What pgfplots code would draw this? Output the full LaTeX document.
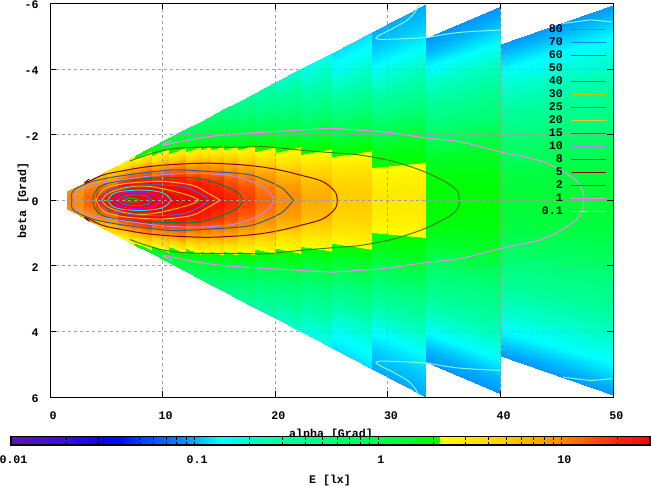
\documentclass[border=0pt]{standalone}
\usepackage{fontspec}
\setmainfont{Liberation Mono}
\usepackage{pgfplots}
\pgfplotsset{compat=1.18}
\definecolor{c80}{HTML}{00C000}\definecolor{c70}{HTML}{0080FF}\definecolor{c60}{HTML}{C000FF}
\definecolor{c50}{HTML}{00EEEE}\definecolor{c40}{HTML}{C04000}\definecolor{c30}{HTML}{C8C800}
\definecolor{c25}{HTML}{4169E1}\definecolor{c20}{HTML}{FFC020}\definecolor{c15}{HTML}{008040}
\definecolor{c10}{HTML}{C080FF}\definecolor{c8}{HTML}{306080}\definecolor{c5}{HTML}{8B0000}
\definecolor{c2}{HTML}{408000}\definecolor{c1}{HTML}{FF80FF}\definecolor{c01}{HTML}{7FFFD4}
\pgfplotsset{colormap={gp}{rgb255(11pt)=(90,20,180) rgb255(67pt)=(55,15,215) rgb255(100pt)=(10,0,245)
 rgb255(120pt)=(0,10,255) rgb255(143pt)=(0,70,255) rgb255(173pt)=(0,120,255) rgb255(193pt)=(0,170,255)
 rgb255(220pt)=(0,255,255) rgb255(250pt)=(0,255,200) rgb255(283pt)=(0,255,160) rgb255(333pt)=(0,255,120)
 rgb255(378pt)=(0,255,70) rgb255(433pt)=(0,255,0) rgb255(439pt)=(0,255,0) rgb255(440pt)=(255,255,0)
 rgb255(500pt)=(255,210,0) rgb255(562pt)=(255,135,0) rgb255(590pt)=(255,85,0) rgb255(617pt)=(255,40,0) rgb255(650pt)=(255,0,0)}}
\pgfplotsset{wedge/.style={surf,shader=interp,colormap name=gp,mesh/cols=2,point meta=explicit,forget plot}}
% one column of the angular grid: a = alpha, r = beta/alpha, e = E in lx
\newcommand{\wcol}[1]{%
 \addplot[wedge] table[row sep=\\,x=a,y expr=\thisrow{r}*\thisrow{a},meta expr=log10(\thisrow{e})]{a r e\\#1};
 \addplot[wedge] table[row sep=\\,x=a,y expr=-\thisrow{r}*\thisrow{a},meta expr=log10(\thisrow{e})]{a r e\\#1};}
\newcommand{\ctr}[3]{%
 \addplot[color=#1,line width=1bp,smooth,tension=.55] table[row sep=\\,x=a,y=b]{a b\\#3};\addlegendentry{#2}
 \addplot[color=#1,line width=1bp,smooth,tension=.55,forget plot] table[row sep=\\,x=a,y expr=-\thisrow{b}]{a b\\#3};}
\begin{document}
\begin{tikzpicture}[x=1bp,y=1bp]
\path[use as bounding box] (0,0) rectangle (651,486);
\begin{axis}[at={(50bp,89bp)},anchor=south west,scale only axis,width=563.3bp,height=393.5bp,
 xmin=0,xmax=50,ymin=-6,ymax=6,y dir=reverse,xtick={0,10,...,50},ytick={-6,-4,...,6},
 point meta min=-2,point meta max=1.48,
 font=\fontsize{11.67}{13}\selectfont\bfseries,
 /pgf/number format/assume math mode=true,
 grid=major,grid style={color=black!38,line width=1bp,dash pattern=on 3bp off 3bp},
 tick align=inside,major tick length=6bp,tick style={black,line width=1bp},axis line style={line width=1bp},
 axis on top,
 xticklabel style={yshift=-11bp,xshift=3bp},yticklabel style={xshift=-8bp,yshift=-1.5bp},
 legend style={draw=none,fill=none,at={(0.9888,0.949)},anchor=north east,inner sep=0pt,row sep=2bp,
   font=\fontsize{11.67}{13}\selectfont\bfseries,
   nodes={inner sep=0pt,text height=8.5bp,text depth=2.5bp},
   /tikz/column sep=8bp},
 legend cell align=right,legend plot pos=right,
 legend image code/.code={\draw[#1,sharp plot] (0bp,0bp) -- (35bp,0bp);},
]
\wcol{40 0 1.2\\50 0 1.2\\40 .02 1.05\\50 .02 1.05\\40 .04 .7\\50 .04 .7\\40 .06 .4\\50 .06 .4\\40 .08 .22\\50 .08 .22\\40 .1 .135\\50 .1 .135\\40 .119 .09\\50 .119 .09\\}
\wcol{33.33 0 1.95\\40 0 1.95\\33.33 .02 1.8\\40 .02 1.8\\33.33 .04 1.3\\40 .04 1.3\\33.33 .05 .95\\40 .05 .95\\33.33 .06 .7\\40 .06 .7\\33.33 .08 .42\\40 .08 .42\\33.33 .1 .24\\40 .1 .24\\33.33 .12 .14\\40 .12 .14\\33.33 .135 .105\\40 .135 .105\\33.33 .148 .088\\40 .148 .088\\}
\wcol{28.57 0 3.2\\33.33 0 3.2\\28.57 .02 2.8\\33.33 .02 2.8\\28.57 .034 2.18\\33.33 .034 2.18\\28.57 .05 1.6\\33.33 .05 1.6\\28.57 .067 1\\33.33 .067 1\\28.57 .08 .7\\33.33 .08 .7\\28.57 .1 .38\\33.33 .1 .38\\28.57 .12 .22\\33.33 .12 .22\\28.57 .14 .14\\33.33 .14 .14\\28.57 .16 .112\\33.33 .16 .112\\28.57 .18 .098\\33.33 .18 .098\\}
\wcol{25 0 5\\28.57 0 5\\25 .02 4.4\\28.57 .02 4.4\\25 .04 3.1\\28.57 .04 3.1\\25 .0525 2.18\\28.57 .0525 2.18\\25 .08 1\\28.57 .08 1\\25 .1 .58\\28.57 .1 .58\\25 .12 .33\\28.57 .12 .33\\25 .14 .2\\28.57 .14 .2\\25 .16 .145\\28.57 .16 .145\\25 .18 .122\\28.57 .18 .122\\}
\wcol{22.22 0 7\\25 0 7\\22.22 .02 6\\25 .02 6\\22.22 .04 4.1\\25 .04 4.1\\22.22 .0625 2.18\\25 .0625 2.18\\22.22 .09 1\\25 .09 1\\22.22 .11 .62\\25 .11 .62\\22.22 .13 .38\\25 .13 .38\\22.22 .15 .25\\25 .15 .25\\22.22 .18 .15\\25 .18 .15\\}
\wcol{20 0 9.5\\22.22 0 9.5\\20 .02 8.2\\22.22 .02 8.2\\20 .04 5.6\\22.22 .04 5.6\\20 .0725 2.18\\22.22 .0725 2.18\\20 .1 1\\22.22 .1 1\\20 .125 .6\\22.22 .125 .6\\20 .15 .36\\22.22 .15 .36\\20 .18 .19\\22.22 .18 .19\\}
\wcol{18.18 0 13\\20 0 13\\18.18 .02 11\\20 .02 11\\18.18 .04 7.8\\20 .04 7.8\\18.18 .06 4.6\\20 .06 4.6\\18.18 .081 2.18\\20 .081 2.18\\18.18 .11 1\\20 .11 1\\18.18 .14 .55\\20 .14 .55\\18.18 .18 .26\\20 .18 .26\\}
\wcol{16.67 0 17\\18.18 0 17\\16.67 .02 15\\18.18 .02 15\\16.67 .04 11\\18.18 .04 11\\16.67 .06 6.5\\18.18 .06 6.5\\16.67 .092 2.18\\18.18 .092 2.18\\16.67 .12 1\\18.18 .12 1\\16.67 .15 .6\\18.18 .15 .6\\16.67 .18 .36\\18.18 .18 .36\\}
\wcol{15.38 0 22\\16.67 0 22\\15.38 .02 18\\16.67 .02 18\\15.38 .04 14\\16.67 .04 14\\15.38 .06 8.5\\16.67 .06 8.5\\15.38 .08 4.8\\16.67 .08 4.8\\15.38 .1 2.18\\16.67 .1 2.18\\15.38 .125 1.05\\16.67 .125 1.05\\15.38 .15 .75\\16.67 .15 .75\\15.38 .18 .42\\16.67 .18 .42\\}
\wcol{14.29 0 27\\15.38 0 27\\14.29 .02 22\\15.38 .02 22\\14.29 .04 18\\15.38 .04 18\\14.29 .06 11\\15.38 .06 11\\14.29 .08 6\\15.38 .08 6\\14.29 .108 2.18\\15.38 .108 2.18\\14.29 .135 1.05\\15.38 .135 1.05\\14.29 .18 .55\\15.38 .18 .55\\}
\wcol{13.33 0 31\\14.29 0 31\\13.33 .02 26\\14.29 .02 26\\13.33 .04 20\\14.29 .04 20\\13.33 .065 11\\14.29 .065 11\\13.33 .082 7\\14.29 .082 7\\13.33 .115 2.18\\14.29 .115 2.18\\13.33 .145 1.05\\14.29 .145 1.05\\13.33 .18 .6\\14.29 .18 .6\\}
\wcol{12 0 38\\13.33 0 38\\12 .02 33\\13.33 .02 33\\12 .04 25\\13.33 .04 25\\12 .07 12\\13.33 .07 12\\12 .088 7\\13.33 .088 7\\12 .122 2.18\\13.33 .122 2.18\\12 .155 1.05\\13.33 .155 1.05\\12 .18 .7\\13.33 .18 .7\\}
\wcol{10.5 0 46\\12 0 46\\10.5 .02 38\\12 .02 38\\10.5 .04 28\\12 .04 28\\10.5 .06 21\\12 .06 21\\10.5 .08 13\\12 .08 13\\10.5 .098 8.5\\12 .098 8.5\\10.5 .134 2.18\\12 .134 2.18\\10.5 .17 1.02\\12 .17 1.02\\10.5 .18 .85\\12 .18 .85\\}
\wcol{9 0 62\\10.5 0 62\\9 .02 48\\10.5 .02 48\\9 .04 34\\10.5 .04 34\\9 .06 25\\10.5 .06 25\\9 .08 15\\10.5 .08 15\\9 .107 7.5\\10.5 .107 7.5\\9 .15 2.18\\10.5 .15 2.18\\9 .18 1.1\\10.5 .18 1.1\\}
\wcol{7.5 0 78\\9 0 78\\7.5 .02 68\\9 .02 68\\7.5 .04 45\\9 .04 45\\7.5 .06 32\\9 .06 32\\7.5 .08 21\\9 .08 21\\7.5 .1 13\\9 .1 13\\7.5 .122 7.5\\9 .122 7.5\\7.5 .168 2.18\\9 .168 2.18\\7.5 .18 1.9\\9 .18 1.9\\}
\wcol{6 0 81\\7.5 0 81\\6 .03 55\\7.5 .03 55\\6 .05 38\\7.5 .05 38\\6 .07 27\\7.5 .07 27\\6 .09 18\\7.5 .09 18\\6 .115 10\\7.5 .115 10\\6 .135 6.5\\7.5 .135 6.5\\6 .18 2.4\\7.5 .18 2.4\\}
\wcol{5 0 60\\6 0 60\\5 .02 48\\6 .02 48\\5 .04 32\\6 .04 32\\5 .07 16\\6 .07 16\\5 .1 10\\6 .1 10\\5 .13 6.5\\6 .13 6.5\\5 .155 5\\6 .155 5\\5 .18 3.4\\6 .18 3.4\\}
\wcol{4 0 25\\5 0 25\\4 .03 22\\5 .03 22\\4 .06 15\\5 .06 15\\4 .1 12\\5 .1 12\\4 .135 8\\5 .135 8\\4 .165 5.2\\5 .165 5.2\\4 .18 4.4\\5 .18 4.4\\}
\wcol{3 0 13\\4 0 13\\3 .05 12.5\\4 .05 12.5\\3 .1 10.5\\4 .1 10.5\\3 .14 8.5\\4 .14 8.5\\3 .18 6\\4 .18 6\\}
\wcol{2.2 0 9.5\\3 0 9.5\\2.2 .1 8.8\\3 .1 8.8\\2.2 .14 8\\3 .14 8\\2.2 .18 6.8\\3 .18 6.8\\}
\wcol{1.5 0 10.5\\2.2 0 10.5\\1.5 .1 10\\2.2 .1 10\\1.5 .18 9\\2.2 .18 9\\}
\ctr{c80}{80}{6.5 0\\6.7 .04\\7.2 .06\\7.7 .04\\7.9 0\\}
\ctr{c70}{70}{6 0\\6.3 .09\\7 .15\\8 .16\\8.7 .11\\9 0\\}
\ctr{c60}{60}{5.6 0\\5.9 .13\\6.6 .22\\7.8 .25\\8.9 .2\\9.6 .1\\9.8 0\\}
\ctr{c50}{50}{5.15 0\\5.5 .17\\6.3 .27\\8 .31\\9.5 .27\\10.3 .17\\10.75 0\\}
\ctr{c40}{40}{5 0\\5.4 .2\\6.2 .33\\8 .4\\9.5 .37\\10.8 .24\\11.5 .12\\11.8 0\\}
\ctr{c30}{30}{4.6 0\\5 .17\\5.8 .3\\7.3 .42\\8.8 .42\\10.2 .34\\11.7 .21\\12.7 .1\\13.2 0\\}
\ctr{c25}{25}{4.35 0\\4.7 .18\\5.5 .33\\7 .43\\8.5 .47\\10.2 .46\\12 .4\\13.5 .16\\14.1 0\\}
\ctr{c20}{20}{4.1 0\\4.4 .2\\5 .38\\6.5 .5\\8.5 .56\\10.2 .57\\12.6 .46\\14 .22\\15.1 0\\}
\ctr{c15}{15}{3.8 0\\4 .25\\4.6 .45\\6 .58\\8 .65\\10.2 .68\\13.1 .67\\15.3 .46\\16.7 .22\\17.1 0\\}
\ctr{c10}{10}{2.15 0\\2.15 .2\\2.6 .3\\3.5 .42\\4.5 .52\\7 .65\\10 .78\\13.1 .82\\16.2 .74\\18.2 .52\\19.4 .26\\19.9 0\\}
\ctr{c8}{8}{1.95 0\\1.9 .18\\2.2 .33\\3.2 .5\\4.3 .62\\6.8 .77\\10.7 .92\\13 .9\\17.3 .8\\19.1 .62\\20.6 .37\\21.4 .09\\21.6 0\\}
\ctr{c5}{5}{3.5 .65\\3.1 .52\\4.7 .77\\6.5 .9\\8.6 1.02\\10.9 1.09\\13.9 1.13\\16.6 1.09\\18.7 1.02\\20.4 .92\\22.2 .77\\24.2 .57\\25.3 .26\\25.5 0\\}
\ctr{c2}{2}{7.1 1.2\\9.8 1.5\\12.5 1.61\\17 1.62\\18.7 1.64\\20 1.61\\22.2 1.53\\25 1.45\\27.5 1.38\\29.9 1.23\\31.3 1.1\\33.3 .86\\35.3 .52\\36.2 .25\\36.3 0\\}
\ctr{c1}{1}{10.8 1.83\\10 1.68\\12.2 1.83\\15 1.98\\18.7 2.07\\22.3 2.14\\25 2.19\\27.3 2.14\\30 2.07\\33.3 1.9\\36.4 1.78\\40 1.47\\42 1.33\\43.8 1.17\\45.6 .87\\46.8 .56\\47.3 .25\\47.4 0\\}
\ctr{c01}{0.1}{32.7 5.95\\32.4 5.74\\31.7 5.49\\30.5 5.25\\29 4.92\\33.3 4.96\\33.9 4.99\\36.4 5.12\\40 5.19\\}
\addplot[color=c01,line width=1bp,forget plot] table[row sep=\\,x=a,y=b]{a b\\45.5 5.39\\48 5.5\\49.9 5.44\\};
\addplot[color=c01,line width=1bp,forget plot] table[row sep=\\,x=a,y expr=-\thisrow{b}]{a b\\45.5 5.39\\48 5.5\\49.9 5.44\\};
\end{axis}
\node[font=\fontsize{11.67}{13}\selectfont\bfseries] at (331bp,51.5bp) {alpha [Grad]};
\node[font=\fontsize{11.67}{13}\selectfont\bfseries,rotate=90] at (23bp,285.5bp) {beta [Grad]};
\node[font=\fontsize{11.67}{13}\selectfont\bfseries] at (330bp,5.5bp) {E [lx]};
\begin{axis}[at={(11bp,41bp)},anchor=south west,scale only axis,width=639bp,height=8.3bp,
 xmode=log,xmin=0.01,xmax=30.2,ymin=0,ymax=1,ytick=\empty,
 point meta min=-2,point meta max=1.48,
 xtick={0.01,0.1,1,10},xticklabels={0.01,0.1,1,10},
 minor xtick={0.02,0.03,0.04,0.05,0.06,0.07,0.08,0.09,0.2,0.3,0.4,0.5,0.6,0.7,0.8,0.9,2,3,4,5,6,7,8,9,20,30},
 tick align=inside,major tick length=3bp,minor tick length=3bp,tick style={black,line width=1bp},
 xtick pos=both,xticklabel pos=bottom,axis on top,axis line style={line width=1.3bp},
 font=\fontsize{11.67}{13}\selectfont\bfseries,xticklabel style={yshift=-7bp,xshift=2.5bp},
]
\addplot[wedge] table[row sep=\\,x=x,y=y,meta expr=log10(\thisrow{x})]{x y\\0.01 0\\0.01 1\\30.2 0\\30.2 1\\};
\end{axis}
\end{tikzpicture}
\end{document}
